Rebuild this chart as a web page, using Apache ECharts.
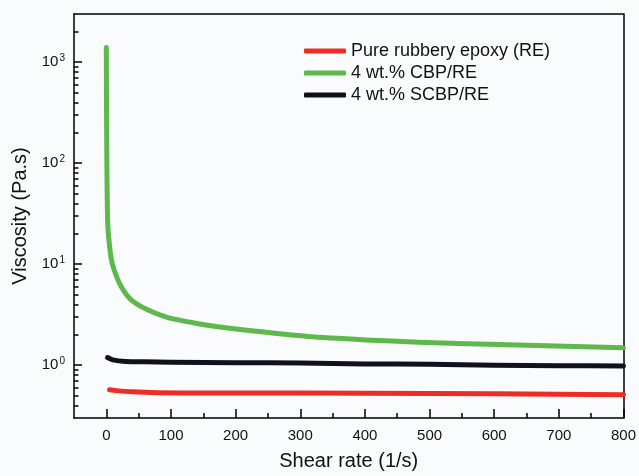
<!DOCTYPE html>
<html>
<head>
<meta charset="utf-8">
<script src="https://cdn.jsdelivr.net/npm/echarts@6/dist/echarts.min.js"></script>
<style>
  html, body { margin: 0; padding: 0; background: #f9fbfc; }
  #chart { width: 639px; height: 476px; }
</style>
</head>
<body>
<div id="chart"></div>
<script>
const shearRE = [5, 15, 40, 80, 150, 300, 500, 700, 800];
const viscRE = [0.57, 0.56, 0.545, 0.535, 0.53, 0.53, 0.525, 0.515, 0.51];

const shearCBP = [0, 2, 7, 12, 23, 38, 63, 94, 136, 167, 221, 313, 401, 483, 606, 800];
const viscCBP = [1400, 27, 11.9, 8.8, 6.0, 4.46, 3.55, 2.98, 2.62, 2.43, 2.2, 1.92, 1.78, 1.69, 1.6, 1.49];

const shearSCBP = [2, 10, 30, 60, 100, 200, 300, 400, 500, 600, 700, 800];
const viscSCBP = [1.19, 1.13, 1.09, 1.08, 1.07, 1.06, 1.05, 1.03, 1.02, 1.0, 0.99, 0.98];

const seriesNames = ["Pure rubbery epoxy (RE)", "4 wt.% CBP/RE", "4 wt.% SCBP/RE"];

const xMajor = [0, 100, 200, 300, 400, 500, 600, 700, 800];
const xMinor = [50, 150, 250, 350, 450, 550, 650, 750];
const yMajor = [1, 10, 100, 1000];
const yMinor = [0.4, 0.5, 0.6, 0.7, 0.8, 0.9, 2, 3, 4, 5, 6, 7, 8, 9,
  20, 30, 40, 50, 60, 70, 80, 90, 200, 300, 400, 500, 600, 700, 800, 900, 2000];

const font = "'Liberation Sans', Arial, sans-serif";
const zip = (xs, ys) => xs.map((x, i) => [x, ys[i]]);

const chart = echarts.init(document.getElementById("chart"));

const lineSeries = (name, color, xs, ys) => ({
  name: name,
  type: "line",
  xAxisIndex: 0,
  yAxisIndex: 0,
  smooth: 0.25,
  showSymbol: false,
  symbol: "none",
  color: color,
  lineStyle: { width: 5, color: color, cap: "round", join: "round" },
  data: zip(xs, ys),
});

const tickLine = { color: "#000", width: 1.5 };

// extra axes only used for minor ticks or for the frame lines
const bareX = (position, lineShow, ticks, len) => ({
  type: "value", min: -50, max: 800, position: position,
  axisLine: { show: lineShow, onZero: false, lineStyle: tickLine },
  axisTick: ticks ? { show: true, inside: true, length: len, customValues: ticks, lineStyle: tickLine } : { show: false },
  axisLabel: { show: false },
  splitLine: { show: false },
});
const bareY = (position, lineShow, ticks, len) => ({
  type: "log", min: 0.3, max: 3000, position: position,
  axisLine: { show: lineShow, onZero: false, lineStyle: tickLine },
  axisTick: ticks ? { show: true, inside: true, length: len, customValues: ticks, lineStyle: tickLine } : { show: false },
  axisLabel: { show: false },
  splitLine: { show: false },
});

chart.setOption({
  backgroundColor: "#f9fbfc",
  animation: false,
  textStyle: { fontFamily: font },
  grid: {
    left: 74, top: 14, right: 14, bottom: 57,
  },
  legend: {
    orient: "vertical",
    left: 299,
    top: 37,
    itemWidth: 42,
    itemHeight: 5,
    itemGap: 4,
    icon: "roundRect",
    data: seriesNames,
    textStyle: { fontSize: 18, color: "#111", fontFamily: font, lineHeight: 18 },
  },
  xAxis: [
    {
      type: "value",
      min: -50,
      max: 800,
      name: "Shear rate (1/s)",
      nameLocation: "middle",
      nameGap: 33,
      nameTextStyle: { fontSize: 20, color: "#111", fontFamily: font },
      axisLine: { show: true, onZero: false, lineStyle: tickLine },
      axisTick: { show: true, inside: true, length: 9, customValues: xMajor, lineStyle: tickLine },
      axisLabel: {
        customValues: xMajor, margin: 10, fontSize: 15, color: "#111", fontFamily: font,
      },
      splitLine: { show: false },
    },
    bareX("bottom", false, xMinor, 5),
    bareX("top", true, null, 0),
  ],
  yAxis: [
    {
      type: "log",
      min: 0.3,
      max: 3000,
      name: "Viscosity (Pa.s)",
      nameLocation: "middle",
      nameGap: 42,
      nameTextStyle: { fontSize: 20, color: "#111", fontFamily: font },
      axisLine: { show: true, onZero: false, lineStyle: tickLine },
      axisTick: { show: true, inside: true, length: 8, customValues: yMajor, lineStyle: tickLine },
      axisLabel: {
        customValues: yMajor,
        margin: 9,
        color: "#111",
        fontFamily: font,
        formatter: (v) => "{b|10}{s|" + Math.round(Math.log10(v)) + "}",
        rich: {
          b: { fontSize: 15, color: "#111", fontFamily: font },
          s: { fontSize: 10, color: "#111", fontFamily: font, verticalAlign: "top", padding: [0, 0, 7, 1] },
        },
      },
      splitLine: { show: false },
    },
    bareY("left", false, yMinor, 4.5),
    bareY("right", true, null, 0),
  ],
  series: [
    lineSeries(seriesNames[0], "#ee2b25", shearRE, viscRE),
    lineSeries(seriesNames[1], "#5eb84c", shearCBP, viscCBP),
    lineSeries(seriesNames[2], "#12101c", shearSCBP, viscSCBP),
  ],
});
</script>
</body>
</html>
